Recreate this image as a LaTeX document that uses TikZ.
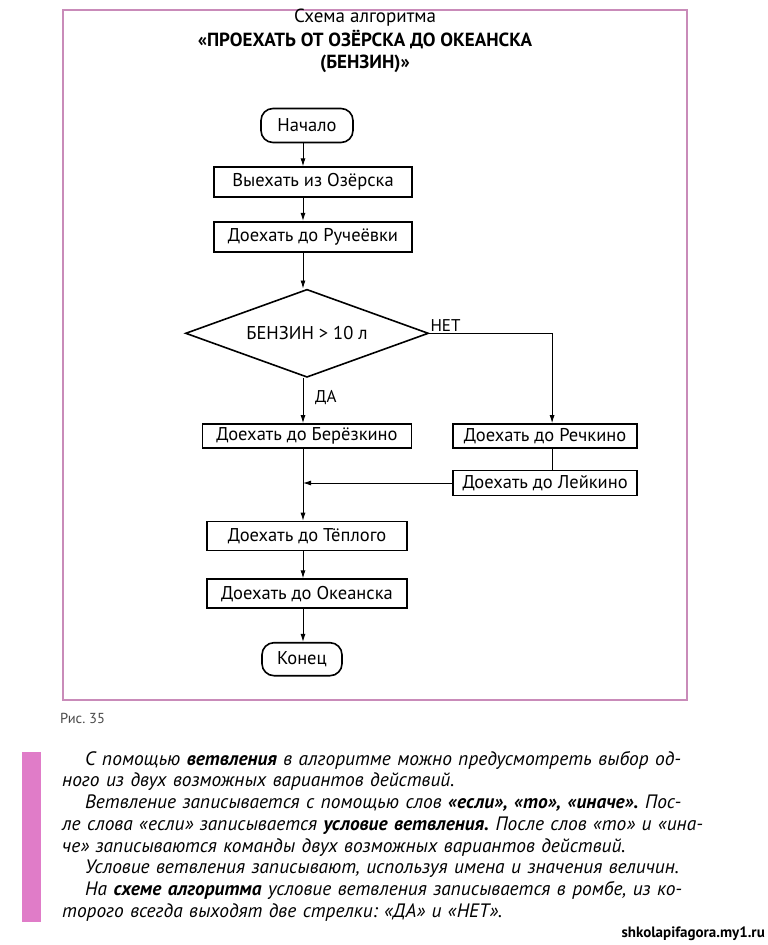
\documentclass[tikz,border=0pt]{standalone}
\usepackage{fontspec}
\setmainfont{PT Sans}
\frenchspacing
\usetikzlibrary{shapes.geometric,arrows.meta,positioning,calc}
\definecolor{framepink}{HTML}{C98BB9}
\definecolor{barpink}{HTML}{E07CC8}
\definecolor{capgray}{HTML}{4A4A4A}
\tikzset{
  act style/.style={rectangle, draw, line width=1.6pt, inner sep=0pt,
    minimum height=30pt, font=\fontsize{18.5}{20}\selectfont},
  term style/.style={act style, rounded corners=12pt, minimum height=34pt},
  cond style/.style={diamond, draw, line width=1.6pt, inner sep=0pt, aspect=2.76,
    minimum width=243pt, minimum height=88pt, font=\fontsize{18.5}{20}\selectfont},
  arr style/.style={-{Latex[length=8pt,width=5pt]}, line width=0.9pt},
  ln style/.style={line width=0.9pt},
  lbl style/.style={font=\fontsize{17}{19}\selectfont, inner sep=1pt}
}

\begin{document}
\begin{tikzpicture}[x=1pt, y=1pt, node distance=23pt]
\useasboundingbox (0,0) rectangle (768,-945);
\fill[white] (0,0) rectangle (768,-945);
\draw[framepink, line width=2.5pt] (63,-10) rectangle (687,-700);
\node[font=\fontsize{19}{21}\selectfont] (ttl) at (365,-18) {Схема алгоритма};
\node[align=center, font=\fontsize{19}{22}\selectfont\bfseries] (ttlb) at (365,-51)
  {«ПРОЕХАТЬ ОТ ОЗЁРСКА ДО ОКЕАНСКА\\(БЕНЗИН)»};

\coordinate (ax) at (303,0);
\node[term style, minimum width=92pt] (start) at (307,-125.5) {Начало};
\node[act style, minimum width=198pt, below=23pt of start, xshift=6pt] (vyezd) {Выехать из Озёрска};
\node[act style, minimum width=198pt, below=of vyezd] (ruch) {Доехать до Ручеёвки};
\node[cond style, below=36pt of ruch, xshift=-6pt] (cond) {БЕНЗИН > 10 л};
\node[act style, minimum width=209pt, minimum height=24pt, below=45pt of cond] (berez) {Доехать до Берёзкино};
\node[act style, minimum width=184pt, minimum height=24pt, right=40pt of berez] (rech) {Доехать до Речкино};
\node[act style, minimum width=184pt, minimum height=25pt, below=21pt of rech] (leik) {Доехать до Лейкино};
\node[act style, minimum width=200pt, minimum height=29pt, below=72pt of berez] (tepl) {Доехать до Тёплого};
\node[act style, minimum width=200pt, minimum height=29pt, below=27pt of tepl] (okean) {Доехать до Океанска};
\node[term style, minimum width=80pt, minimum height=33pt, below=33pt of okean, xshift=-5pt] (konec) {Конец};

\coordinate[xshift=7pt] (netc) at (cond.east -| rech.north);
\node[lbl style, anchor=south west] (net) at ([shift={(0pt,1pt)}]cond.east) {НЕТ};
\node[lbl style, anchor=north west] (da) at ([shift={(7pt,-11pt)}]cond.south) {ДА};

\draw[arr style] (start.south -| ax) -- (vyezd.north -| ax);
\draw[arr style] (vyezd.south -| ax) -- (ruch.north -| ax);
\draw[arr style] (ruch.south -| ax) -- (cond.north -| ax);
\draw[arr style] (cond.south -| ax) -- (berez.north -| ax);
\draw[ln style] (cond.east) -- (netc);
\draw[arr style] (netc) -- (netc |- rech.north);
\draw[ln style] (rech.south -| netc) -- (leik.north -| netc);
\draw[arr style] (leik.west) -- (leik.west -| ax);
\draw[arr style] (berez.south -| ax) -- (tepl.north -| ax);
\draw[arr style] (tepl.south -| ax) -- (okean.north -| ax);
\draw[arr style] (okean.south -| ax) -- (konec.north -| ax);

\node[anchor=west, text=capgray, font=\fontsize{14.5}{16}\selectfont, inner sep=0pt] (fig) at (60,-718) {Рис. 35};
\fill[barpink] (22,-752) rectangle (41,-922);
\node[anchor=north west, inner sep=0pt, text width=621pt, align=left,
  font=\fontsize{19.4}{21.7}\selectfont\itshape] (txt) at (62,-751) {%
\hspace*{23pt}\makebox[598pt][s]{С помощью \textbf{ветвления} в алгоритме можно предусмотреть выбор од-}\\
ного из двух возможных вариантов действий.\\
\hspace*{23pt}\makebox[598pt][s]{Ветвление записывается с помощью слов \textbf{«если», «то», «иначе».} Пос-}\\
\makebox[621pt][s]{ле слова «если» записывается \textbf{условие ветвления.} После слов «то» и «ина-}\\
че» записываются команды двух возможных вариантов действий.\\
\hspace*{23pt}Условие ветвления записывают, используя имена и значения величин.\\
\hspace*{23pt}\makebox[598pt][s]{На \textbf{схеме алгоритма} условие ветвления записывается в ромбе, из ко-}\\
торого всегда выходят две стрелки: «ДА» и «НЕТ».};
\node[anchor=east, font=\fontsize{15}{17}\selectfont\bfseries, inner sep=0pt] (wm) at (765,-934) {shkolapifagora.my1.ru};
\end{tikzpicture}
\end{document}
